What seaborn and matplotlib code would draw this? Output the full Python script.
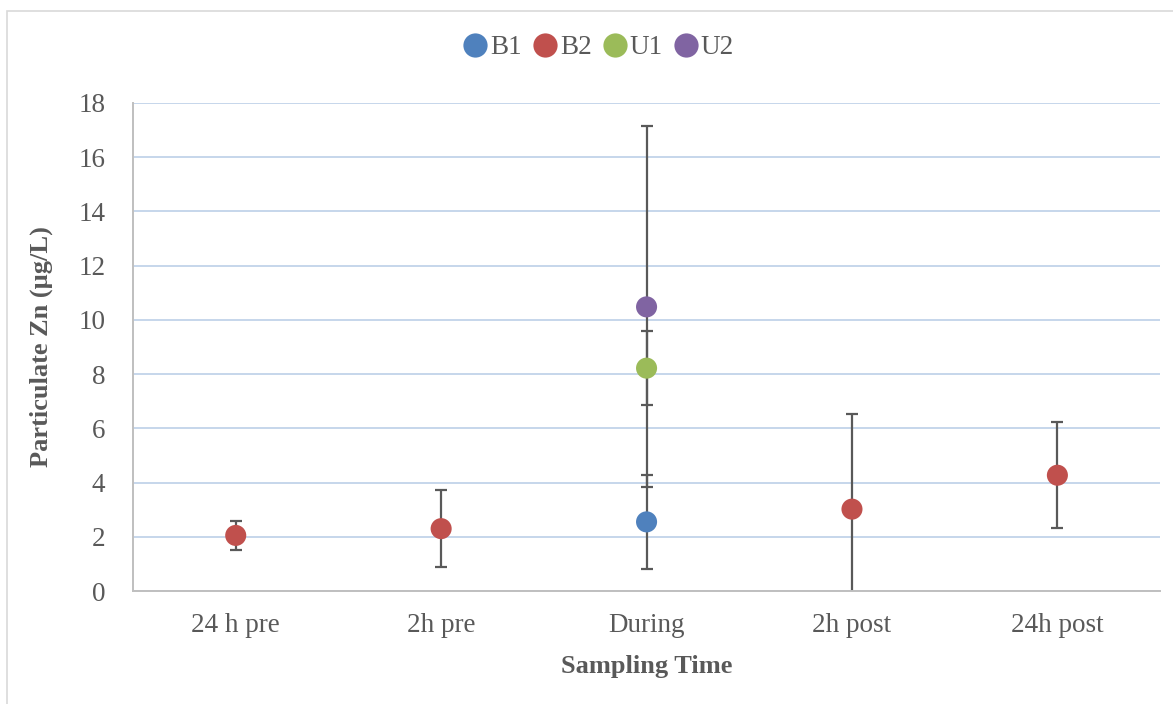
import pandas as pd
import matplotlib.pyplot as plt
import seaborn as sns
from matplotlib.patches import Rectangle

# データ
times = ["24 h pre", "2h pre", "During", "2h post", "24h post"]
series = ["B1", "B2", "U1", "U2"]
point_time = ["24 h pre", "2h pre", "During", "During", "During", "2h post", "24h post"]
point_series = ["B2", "B2", "B1", "U1", "U2", "B2", "B2"]
point_value = [2.05, 2.30, 2.55, 8.22, 10.48, 3.02, 4.27]
point_err = [0.55, 1.42, 1.74, 1.36, 6.66, 3.51, 1.95]
colors = {"B1": "#4F81BD", "B2": "#C0504D", "U1": "#9BBB59", "U2": "#8064A2"}

df = pd.DataFrame({"time": point_time, "series": point_series,
                   "value": point_value, "err": point_err})
df["x"] = df["time"].map({t: i for i, t in enumerate(times)})

sns.set_style("white")
plt.rcParams["font.family"] = ["Liberation Serif", "DejaVu Serif"]
grey = "#595959"

fig, ax = plt.subplots(figsize=(11.73, 7.04), dpi=100)
fig.subplots_adjust(left=0.1134, right=0.989, bottom=0.1605, top=0.8537)

# 外枠
fig.patches.append(Rectangle((0.006, -0.2), 1.2, 1.184, transform=fig.transFigure,
                             fill=False, edgecolor="#D9D9D9", linewidth=1.2))

# エラーバー（マーカーの後ろ）
ax.errorbar(df["x"], df["value"], yerr=df["err"], fmt="none", ecolor=grey,
            elinewidth=1.6, capsize=4.3, capthick=1.6, zorder=2)

sns.scatterplot(data=df, x="x", y="value", hue="series", hue_order=series,
                palette=colors, s=230, edgecolor="none", ax=ax, zorder=3)

ax.set_xlim(-0.5, len(times) - 0.5)
ax.set_ylim(0, 18)
ax.set_xticks(range(len(times)))
ax.set_xticklabels(times)
ax.set_yticks(range(0, 19, 2))
ax.tick_params(axis="x", labelsize=19.5, colors=grey, length=0, pad=16)
ax.tick_params(axis="y", labelsize=19.5, colors=grey, length=0, pad=20)
ax.yaxis.grid(True, color="#C6D6EB", linewidth=1.4)
ax.set_axisbelow(True)
for s in ["top", "right"]:
    ax.spines[s].set_visible(False)
for s in ["left", "bottom"]:
    ax.spines[s].set_color("#BFBFBF")
    ax.spines[s].set_linewidth(1.4)

ax.set_xlabel("Sampling Time", fontsize=19, fontweight="bold", color=grey, labelpad=12)
ax.set_ylabel("Particulate Zn (µg/L)", fontsize=19, fontweight="bold", color=grey, labelpad=18)

sns.move_legend(ax, "center", bbox_to_anchor=(0.512, 0.932),
                bbox_transform=fig.transFigure, ncol=4, frameon=False, title=None,
                fontsize=19.5, handlelength=0.6, handletextpad=0.25, columnspacing=0.55,
                markerscale=1.15)
for t in ax.get_legend().get_texts():
    t.set_color(grey)

fig.savefig("out.png", dpi=100)
